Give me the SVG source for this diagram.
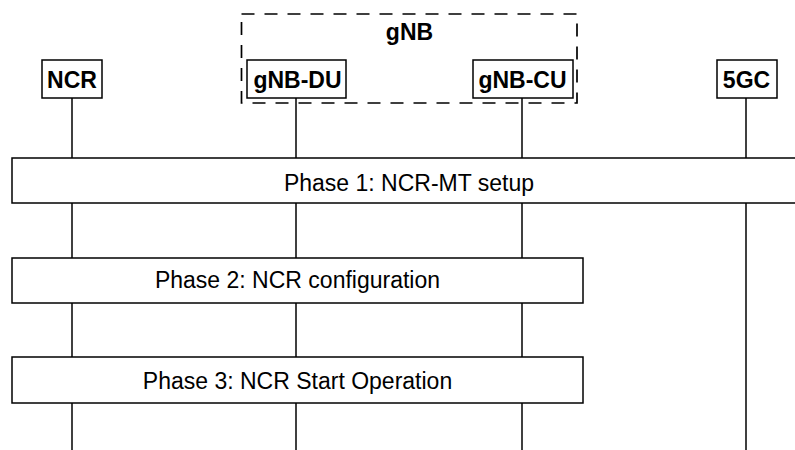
<svg xmlns="http://www.w3.org/2000/svg" width="795" height="450" viewBox="0 0 795 450">
<style>
.box{fill:#fff;stroke:#000;stroke-width:1.5}
.life{stroke:#000;stroke-width:1.5;fill:none}
.lbl{font-family:"Liberation Sans",Arial,sans-serif;font-size:23px;font-weight:bold;text-anchor:middle;fill:#000}
.ph{font-family:"Liberation Sans",Arial,sans-serif;font-size:23px;text-anchor:middle;fill:#000}
</style>
<rect width="795" height="450" fill="#fff"/>
<g id="gNB">
<rect x="241.5" y="14" width="335.5" height="89" fill="none" stroke="#000" stroke-width="1.7" stroke-dasharray="13,10"/>
<text class="lbl" x="409.5" y="40">gNB</text>
</g>
<g id="connectors">
<line class="life" x1="72" y1="98" x2="72" y2="450"/>
<line class="life" x1="296" y1="98" x2="296" y2="450"/>
<line class="life" x1="522" y1="98" x2="522" y2="450"/>
<line class="life" x1="746" y1="98" x2="746" y2="450"/>
</g>
<g id="NCR"><rect class="box" x="42" y="60" width="60" height="38"/><text class="lbl" x="72" y="88">NCR</text></g>
<g id="gNB-DU"><rect class="box" x="247" y="60" width="99" height="38"/><text class="lbl" x="297.5" y="88">gNB-DU</text></g>
<g id="gNB-CU"><rect class="box" x="473" y="60" width="100" height="38"/><text class="lbl" x="522.5" y="88">gNB-CU</text></g>
<g id="5GC"><rect class="box" x="717" y="60" width="60" height="38"/><text class="lbl" x="746.5" y="88">5GC</text></g>
<g id="phase1"><rect class="box" x="12" y="158" width="800" height="45"/><text class="ph" x="409" y="191">Phase 1: NCR-MT setup</text></g>
<g id="phase2"><rect class="box" x="12" y="258" width="571" height="45"/><text class="ph" x="297.5" y="288">Phase 2: NCR configuration</text></g>
<g id="phase3"><rect class="box" x="12" y="357" width="571" height="46"/><text class="ph" x="297.5" y="389">Phase 3: NCR Start Operation</text></g>
</svg>
